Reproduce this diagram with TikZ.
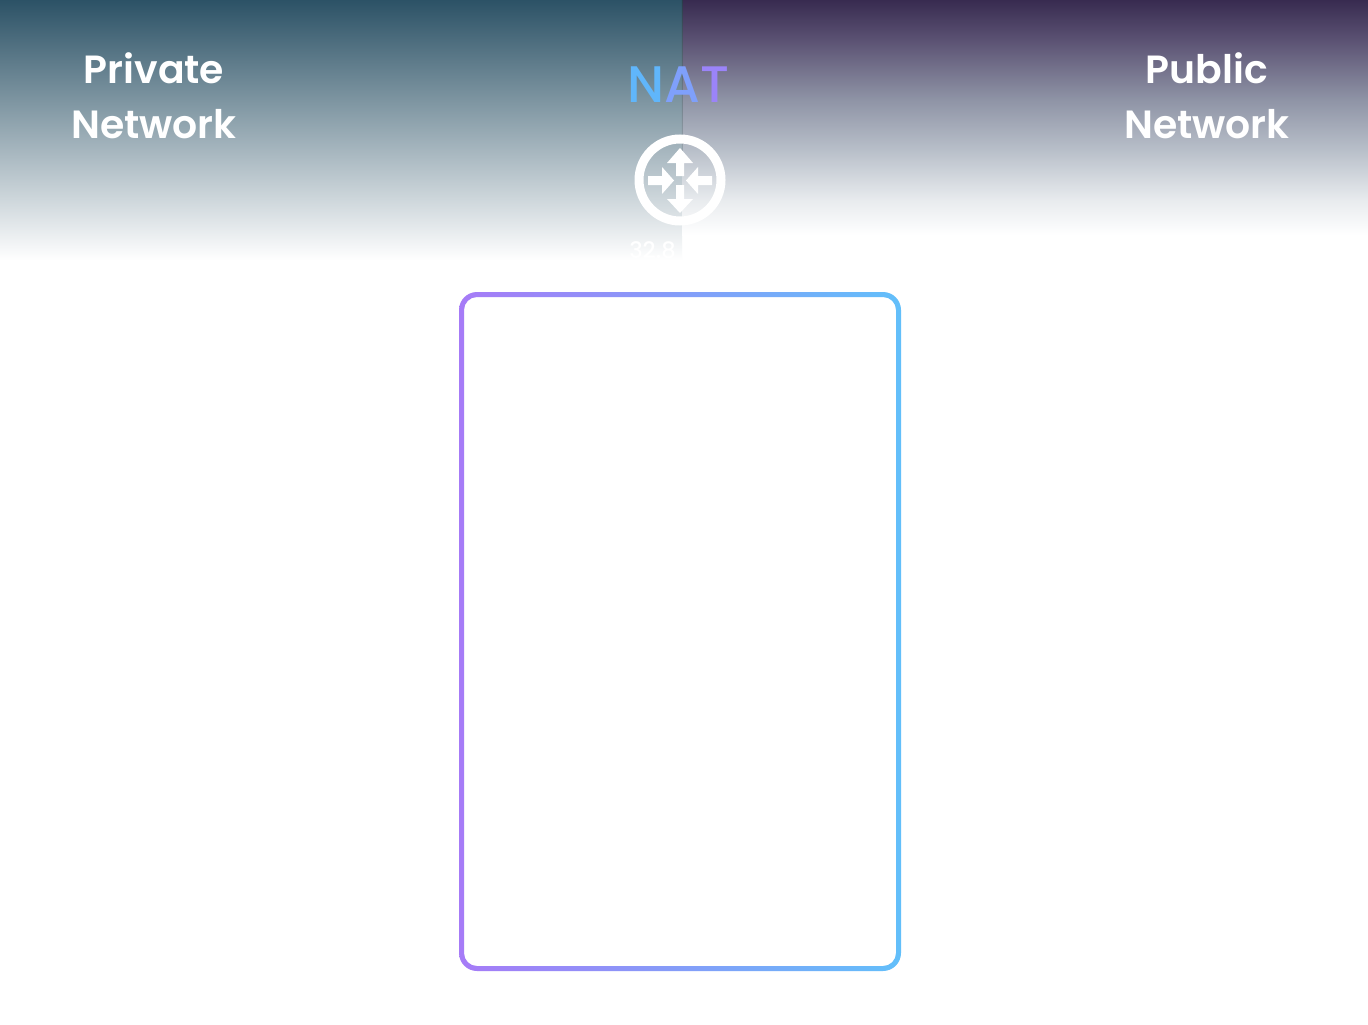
\documentclass[tikz,border=0pt]{standalone}
\usepackage{fontspec}
\setmainfont{Poppins}[UprightFont={* SemiBold},BoldFont={* SemiBold}]
\newfontfamily\natfont{Poppins Medium}[LetterSpace=-3]
\newfontfamily\addrfont{Poppins Medium}
\definecolor{privtop}{HTML}{2C5266}
\definecolor{pubA}{HTML}{382B50}
\definecolor{pubB}{HTML}{5B5273}
\definecolor{pubC}{HTML}{8F94A6}
\definecolor{pubD}{HTML}{B8BFC9}
\definecolor{pubE}{HTML}{E8EBEE}
\definecolor{gradpurple}{HTML}{A67BF7}
\definecolor{gradblue}{HTML}{62BFFA}
\definecolor{natN}{HTML}{60B6FB}
\definecolor{natA}{HTML}{7FA0FB}
\definecolor{natT}{HTML}{9B84F9}
\definecolor{divtop}{HTML}{2A3B4A}
\definecolor{divbottom}{HTML}{98A4AD}
\pgfdeclareverticalshading{pubband}{100bp}{
  color(0bp)=(white);
  color(25bp)=(white);
  color(32.45bp)=(pubE);
  color(43.1bp)=(pubD);
  color(53.7bp)=(pubC);
  color(66.5bp)=(pubB);
  color(75bp)=(pubA);
  color(100bp)=(pubA)}
\tikzset{
  netlabel/.style={text=white,font=\fontsize{29.5}{41.25}\selectfont,align=center,inner sep=0pt},
  iconarrow/.style={fill=white,draw=none},
}
\begin{document}
\begin{tikzpicture}[x=0.75pt,y=-0.75pt]
\useasboundingbox (0,0) rectangle (1368,1025);
\fill[white] (0,0) rectangle (1368,1025);
% header bands
\shade[top color=privtop,bottom color=white,draw=none] (0,0) rectangle (682,260);
\shade[shading=pubband,draw=none] (682,0) rectangle (1368,235);
% divider
\shade[top color=divtop,bottom color=divbottom,draw=none] (681.8,0) rectangle (682.9,152);
% labels
\node[netlabel] (private) at (154,95.5) {Private\\Network};
\node[netlabel] (public) at (1207,95.5) {Public\\Network};
\node[inner sep=0pt,font=\natfont\fontsize{38.5}{44}\selectfont] (nat) at (678.5,85)
  {\textcolor{natN}{N}\textcolor{natA}{A}\textcolor{natT}{T}};
% router icon
\draw[white,line width=6.75pt] (680,180) circle (41);
\fill[iconarrow] (676,176) -- (676,163) -- (667,163) -- (680,148) -- (693,163) -- (684,163) -- (684,176) -- cycle;
\fill[iconarrow] (676,185) -- (676,199) -- (667,199) -- (680,213) -- (693,199) -- (684,199) -- (684,185) -- cycle;
\fill[iconarrow] (648,176) -- (662,176) -- (662,167) -- (674,180.5) -- (662,194) -- (662,185) -- (648,185) -- cycle;
\fill[iconarrow] (712,176) -- (698,176) -- (698,167) -- (686,180.5) -- (698,194) -- (698,185) -- (712,185) -- cycle;
\node[inner sep=0pt,text=white,font=\addrfont\fontsize{17}{20}\selectfont,anchor=west] (addr) at (629,250) {32.8};
% gradient frame
\shade[left color=gradpurple,right color=gradblue,even odd rule,draw=none]
  [rounded corners=18*0.75pt] (459,292) rectangle (901,971)
  [rounded corners=13*0.75pt] (464,297) rectangle (896,966);
\end{tikzpicture}
\end{document}
